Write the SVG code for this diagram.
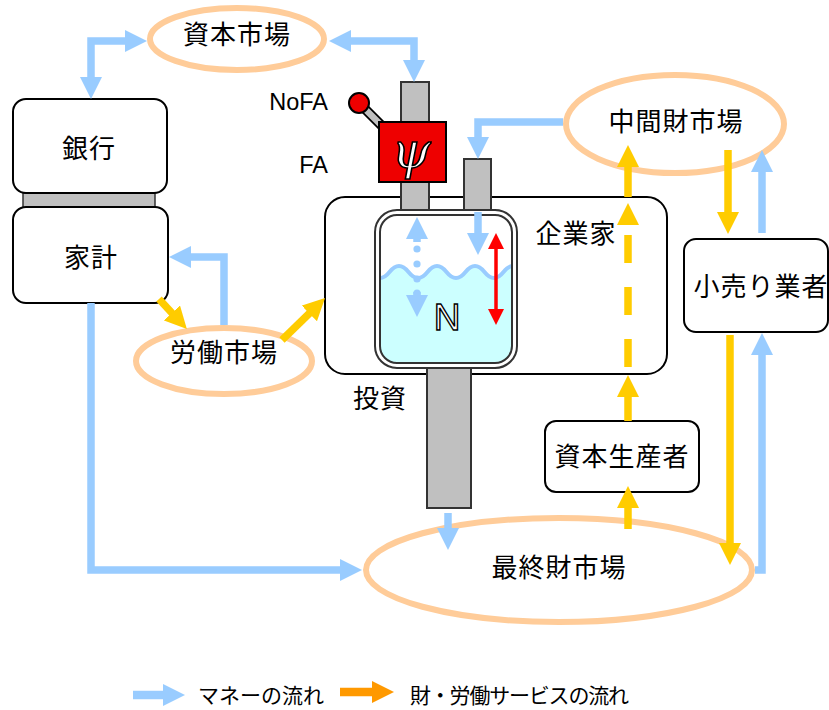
<svg xmlns="http://www.w3.org/2000/svg" width="829" height="710" viewBox="0 0 829 710">
  <style>
    .jp { font-family: "Noto Sans CJK JP", "Noto Sans CJK SC", sans-serif; font-size: 26px; letter-spacing: 1px; text-anchor: middle; fill: #000; }
    .lg { font-family: "Noto Sans CJK JP", "Noto Sans CJK SC", sans-serif; font-size: 21px; fill: #000; }
    .lat { font-family: "Liberation Sans", Arial, sans-serif; font-size: 23.5px; text-anchor: end; fill: #000; }
    .box { fill: #fff; stroke: #000; stroke-width: 2; }
    .mkt { fill: #fff; stroke: #ffcc99; stroke-width: 6; }
    .pipe { fill: #c0c0c0; stroke: #333; stroke-width: 2; }
    .money { fill: none; stroke: #99ccff; stroke-width: 7.5; marker-end: url(#ahBlue); }
    .goods { fill: none; stroke: #ffcc00; stroke-width: 7.5; marker-end: url(#ahYel); }
    .both { marker-start: url(#ahBlue); }
  </style>
  <defs>
    <marker id="ahBlue" viewBox="0 0 22 22" markerWidth="22" markerHeight="22" markerUnits="userSpaceOnUse" refX="1" refY="11" orient="auto-start-reverse">
      <path d="M0 0 L22 11 L0 22 Z" fill="#99ccff"/>
    </marker>
    <marker id="ahYel" viewBox="0 0 22 22" markerWidth="22" markerHeight="22" markerUnits="userSpaceOnUse" refX="1" refY="11" orient="auto-start-reverse">
      <path d="M0 0 L22 11 L0 22 Z" fill="#ffcc00"/>
    </marker>
    <marker id="ahOrange" viewBox="0 0 22 22" markerWidth="22" markerHeight="22" markerUnits="userSpaceOnUse" refX="1" refY="11" orient="auto">
      <path d="M0 0 L22 11 L0 22 Z" fill="#ff9900"/>
    </marker>
    <marker id="ahRed" viewBox="0 0 16 16" markerWidth="16" markerHeight="16" markerUnits="userSpaceOnUse" refX="1" refY="8" orient="auto-start-reverse">
      <path d="M0 0 L16 8 L0 16 Z" fill="#ff0000"/>
    </marker>
    <clipPath id="tankInner">
      <rect x="380" y="215" width="132" height="148" rx="17"/>
    </clipPath>
  </defs>

  <!-- markets -->
  <g id="capital-market">
    <ellipse class="mkt" cx="237" cy="39" rx="87" ry="31"/>
    <text class="jp" x="237" y="44">資本市場</text>
  </g>
  <g id="intermediate-market">
    <ellipse class="mkt" cx="675" cy="124" rx="109" ry="49"/>
    <text class="jp" x="676" y="131">中間財市場</text>
  </g>
  <g id="labour-market">
    <ellipse class="mkt" cx="224" cy="361" rx="88" ry="33"/>
    <text class="jp" x="224" y="362">労働市場</text>
  </g>
  <g id="final-market">
    <ellipse class="mkt" cx="559" cy="570" rx="193" ry="52"/>
    <text class="jp" x="559" y="577">最終財市場</text>
  </g>

  <!-- bank and household -->
  <g id="bank-household">
    <rect x="23" y="193" width="132" height="15" fill="#c0c0c0" stroke="#333" stroke-width="1.5"/>
    <g id="bank">
      <rect class="box" x="13" y="99" width="154" height="94" rx="13"/>
      <text class="jp" x="89" y="158">銀行</text>
    </g>
    <g id="household">
      <rect class="box" x="13" y="207" width="155" height="96" rx="13"/>
      <text class="jp" x="91" y="267">家計</text>
    </g>
  </g>

  <!-- entrepreneur with its tank, pipes and valve -->
  <g id="entrepreneur">
    <rect class="box" x="325" y="197" width="342" height="177" rx="20"/>
    <text class="jp" x="576" y="243">企業家</text>
    <path fill="none" stroke="#ffcc00" stroke-width="7.5" stroke-dasharray="28 24" marker-end="url(#ahYel)" d="M628 367 V224"/>
  </g>
  <g id="pipes">
    <rect class="pipe" x="401" y="82" width="28" height="130"/>
    <rect class="pipe" x="464" y="159" width="27" height="53"/>
    <rect class="pipe" x="427" y="364" width="44" height="144"/>
  </g>
  <g id="tank">
    <rect x="375" y="210" width="142" height="158" rx="22" fill="#fff" stroke="#333" stroke-width="2"/>
    <g clip-path="url(#tankInner)">
      <path fill="#ccffff" d="M380 278 C389.5 278 389.5 266 399 266 C408.5 266 408.5 278 418 278 C427.5 278 427.5 266 437 266 C446.5 266 446.5 278 456 278 C465.5 278 465.5 266 475 266 C484.5 266 484.5 278 494 278 C503.5 278 503.5 266 513 266 L513 364 L380 364 Z"/>
      <path fill="none" stroke="#99ccff" stroke-width="4" d="M380 278 C389.5 278 389.5 266 399 266 C408.5 266 408.5 278 418 278 C427.5 278 427.5 266 437 266 C446.5 266 446.5 278 456 278 C465.5 278 465.5 266 475 266 C484.5 266 484.5 278 494 278 C503.5 278 503.5 266 513 266"/>
    </g>
    <rect x="380" y="215" width="132" height="148" rx="17" fill="none" stroke="#333" stroke-width="2"/>
    <!-- level moves up and down -->
    <path class="money" d="M417 242 V238"/>
    <circle cx="417" cy="249" r="3.6" fill="#99ccff"/>
    <circle cx="417" cy="264" r="3.6" fill="#99ccff"/>
    <circle cx="417" cy="279" r="3.6" fill="#99ccff"/>
    <circle cx="417" cy="293" r="3.6" fill="#99ccff"/>
    <path class="money" d="M417 292 V296"/>
    <!-- inflow from FA pipe -->
    <path class="money" d="M478 212 V234"/>
    <!-- range of N -->
    <path fill="none" stroke="#ff0000" stroke-width="3.5" marker-start="url(#ahRed)" marker-end="url(#ahRed)" d="M496 248 V310"/>
    <text x="447" y="330" font-family="Liberation Sans, Arial, sans-serif" font-size="37" text-anchor="middle" fill="#fff" stroke="#000" stroke-width="1.4">N</text>
  </g>
  <g id="valve">
    <line x1="359" y1="103" x2="386" y2="130" stroke="#000" stroke-width="10" stroke-linecap="round"/>
    <line x1="359" y1="103" x2="386" y2="130" stroke="#c0c0c0" stroke-width="6.5" stroke-linecap="round"/>
    <circle cx="359" cy="103" r="10" fill="#ee0000" stroke="#000" stroke-width="2"/>
    <rect x="379" y="122" width="67" height="60" fill="#ee0000" stroke="#000" stroke-width="2"/>
    <text x="411" y="168" font-family="DejaVu Serif, Liberation Serif, serif" font-style="italic" font-size="50" text-anchor="middle" fill="#fff" stroke="#000" stroke-width="1.6">ψ</text>
  </g>
  <g id="fa-labels">
    <text class="lat" x="328" y="110">NoFA</text>
    <text class="lat" x="328" y="173">FA</text>
  </g>
  <g id="investment-label">
    <text class="jp" x="380" y="408">投資</text>
  </g>

  <g id="capital-producer">
    <rect class="box" x="545" y="421" width="154" height="71" rx="11"/>
    <text class="jp" x="622" y="466">資本生産者</text>
  </g>
  <g id="retailer">
    <rect class="box" x="684" y="239" width="144" height="93" rx="12"/>
    <text class="jp" x="761" y="296">小売り業者</text>
  </g>

  <!-- flows between sectors, drawn over the nodes -->
  <g id="connectors">
    <!-- bank <-> capital market -->
    <path class="money both" d="M91 78 V41 H126"/>
    <!-- capital market <-> NoFA pipe -->
    <path class="money both" d="M350 41 H414 V61"/>
    <!-- intermediate goods market -> FA pipe -->
    <path class="money" d="M563 122 H478 V138"/>
    <!-- labour market -> household -->
    <path class="money" d="M224 325 V257 H190"/>
    <!-- household -> final goods market -->
    <path class="money" d="M91 303 V570 H341"/>
    <!-- investment pipe -> final goods market -->
    <path class="money" d="M448 513 V529"/>
    <!-- retailer -> intermediate goods market -->
    <path class="money" d="M762 233 V171"/>
    <!-- final goods market -> retailer -->
    <path class="money" d="M755 570 H762 V354"/>

    <!-- household -> labour market -->
    <path class="goods" d="M159 299 L172.6 313.7"/>
    <!-- labour market -> entrepreneur -->
    <path class="goods" d="M282 340 L310 312.7"/>
    <!-- final goods market -> capital producer -->
    <path class="goods" d="M628 529 V507"/>
    <!-- capital producer -> entrepreneur -->
    <path class="goods" d="M628 421 V396"/>
    <!-- entrepreneur -> intermediate goods market -->
    <path class="goods" d="M628 197 V166"/>
    <!-- intermediate goods market -> retailer -->
    <path class="goods" d="M728 150 V213"/>
    <!-- retailer -> final goods market -->
    <path class="goods" d="M730 335 V544"/>
  </g>

  <!-- key -->
  <g id="legend">
    <path fill="none" stroke="#99ccff" stroke-width="8.5" marker-end="url(#ahBlue)" d="M133 695 H164"/>
    <text class="lg" x="198" y="703">マネーの流れ</text>
    <path fill="none" stroke="#ff9900" stroke-width="8.5" marker-end="url(#ahOrange)" d="M340 692 H373"/>
    <text class="lg" x="410" y="703" letter-spacing="-1.2">財・労働サービスの流れ</text>
  </g>
</svg>
